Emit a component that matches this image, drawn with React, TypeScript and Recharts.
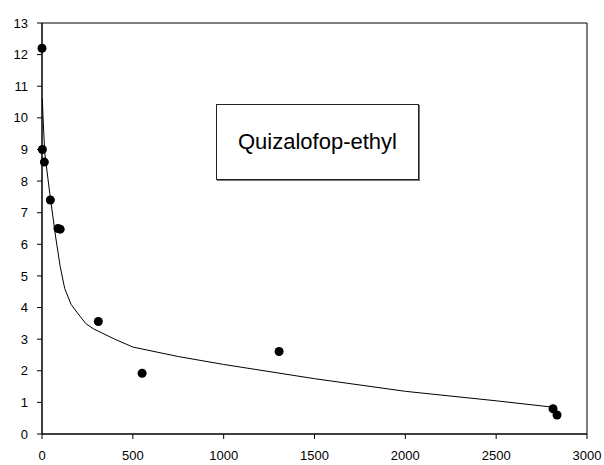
import { ComposedChart, Scatter, XAxis, YAxis, ReferenceArea } from "recharts";

// measured residues (time vs. concentration)
const obsTime = [0, 2, 13, 46, 88, 100, 310, 551, 1305, 2813, 2835];
const obsConc = [12.2, 9.0, 8.6, 7.4, 6.5, 6.48, 3.56, 1.92, 2.61, 0.8, 0.6];

// fitted decay curve
const fitTime = [2, 5, 15, 43, 76, 100, 125, 160, 199, 240, 282, 400, 500, 750, 1000, 1500, 2000, 2500, 2810];
const fitConc = [10.6, 10.1, 8.9, 7.6, 6.2, 5.3, 4.6, 4.1, 3.8, 3.5, 3.33, 3.0, 2.75, 2.45, 2.2, 1.75, 1.35, 1.05, 0.85];

const xTicks = [0, 500, 1000, 1500, 2000, 2500, 3000];
const yTicks = [0, 1, 2, 3, 4, 5, 6, 7, 8, 9, 10, 11, 12, 13];

const observed = obsTime.map((x, i) => ({ x, y: obsConc[i] }));
const fitted = fitTime.map((x, i) => ({ x, y: fitConc[i] }));

const FONT = "'Liberation Sans', Arial, sans-serif";
const tickStyle = { fill: "#000", fontSize: 13, fontFamily: FONT };

const Dot = (props: any) => <circle cx={props.cx} cy={props.cy} r={4.5} fill="#000" />;

export default function App() {
  return (
    <div style={{ position: "absolute", left: 0, top: 0, width: 604, height: 465, background: "#fff" }}>
      <ComposedChart width={604} height={465} margin={{ top: 23, right: 17, bottom: 1, left: 0 }}>
        <XAxis
          type="number"
          dataKey="x"
          domain={[0, 3000]}
          ticks={xTicks}
          tick={tickStyle}
          tickSize={5}
          tickMargin={12}
          height={30}
          stroke="#000"
          interval={0}
        />
        <YAxis
          type="number"
          dataKey="y"
          domain={[0, 13]}
          ticks={yTicks}
          tick={tickStyle}
          tickSize={5}
          tickMargin={9}
          width={42}
          stroke="#000"
          interval={0}
        />
        <ReferenceArea x1={0} x2={3000} y1={0} y2={13} fill="none" stroke="#000" strokeWidth={1} ifOverflow="visible" />
        <Scatter
          data={fitted}
          line={{ stroke: "#000", strokeWidth: 1 }}
          lineType="joint"
          shape={() => <g />}
          isAnimationActive={false}
        />
        <Scatter data={observed} shape={Dot} isAnimationActive={false} />
      </ComposedChart>
      <div
        style={{
          position: "absolute",
          left: 216,
          top: 104,
          width: 201,
          height: 74,
          border: "1px solid #222",
          boxShadow: "1px 1px 0 #777",
          background: "#fff",
          display: "flex",
          alignItems: "center",
          justifyContent: "center",
          fontFamily: FONT,
          fontSize: 22,
          color: "#000",
        }}
      >
        Quizalofop-ethyl
      </div>
    </div>
  );
}
